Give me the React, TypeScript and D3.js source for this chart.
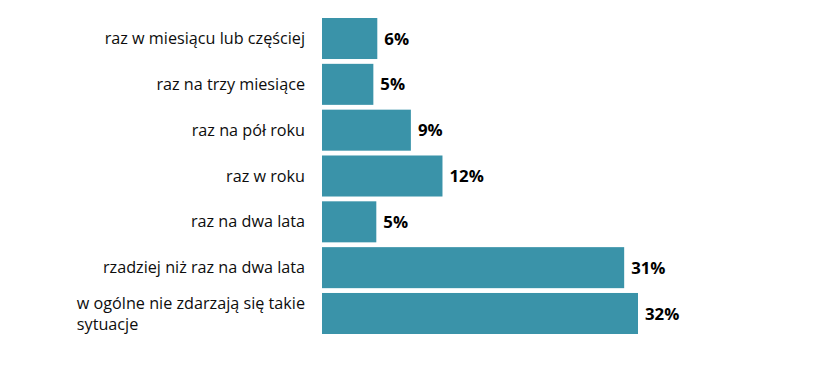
import React, { useEffect, useRef } from "react";
import * as d3 from "d3";

const categories = [
  "raz w miesiącu lub częściej",
  "raz na trzy miesiące",
  "raz na pół roku",
  "raz w roku",
  "raz na dwa lata",
  "rzadziej niż raz na dwa lata",
  "w ogólne nie zdarzają się takie sytuacje",
];
const values = [5.6, 5.2, 9.0, 12.2, 5.5, 30.6, 32.0];
const valueLabels = ["6%", "5%", "9%", "12%", "5%", "31%", "32%"];
const wrapLines: string[][] = [
  ["raz w miesiącu lub częściej"],
  ["raz na trzy miesiące"],
  ["raz na pół roku"],
  ["raz w roku"],
  ["raz na dwa lata"],
  ["rzadziej niż raz na dwa lata"],
  ["w ogólne nie zdarzają się takie", "sytuacje"],
];

const W = 816;
const H = 369;
const FONT = "'Open Sans', sans-serif";

export default function App() {
  const ref = useRef<SVGSVGElement | null>(null);

  useEffect(() => {
    const svg = d3.select(ref.current);
    svg.selectAll("*").remove();

    const x = d3.scaleLinear().domain([0, 32]).range([322, 638]);
    const y = d3
      .scaleBand<string>()
      .domain(categories)
      .range([15.6, 336.4])
      .paddingInner(0.105)
      .paddingOuter(0.0525);

    svg
      .append("g")
      .selectAll("rect")
      .data(categories)
      .join("rect")
      .attr("x", x(0))
      .attr("y", (d) => y(d)!)
      .attr("width", (_, i) => x(values[i]) - x(0))
      .attr("height", y.bandwidth())
      .attr("fill", "#3a93a9");

    svg
      .append("g")
      .selectAll("text")
      .data(categories)
      .join("text")
      .attr("x", (_, i) => x(values[i]) + 7)
      .attr("y", (d) => y(d)! + y.bandwidth() / 2)
      .attr("dy", "0.36em")
      .attr("font-family", FONT)
      .attr("font-weight", "bold")
      .attr("font-size", 16.8)
      .attr("fill", "#000")
      .text((_, i) => valueLabels[i]);

    const labelRight = 305;
    const lineH = 21;
    const lg = svg.append("g");
    categories.forEach((c, i) => {
      const lines = wrapLines[i];
      const cy = y(c)! + y.bandwidth() / 2;
      const t = lg
        .append("text")
        .attr("font-family", FONT)
        .attr("font-size", 16.2)
        .attr("fill", "#0d0d0d");
      const tspans = lines.map((ln, k) =>
        t
          .append("tspan")
          .attr("y", cy + (k - (lines.length - 1) / 2) * lineH)
          .attr("dy", "0.35em")
          .text(ln)
      );
      const widths = tspans.map((ts) => (ts.node() as SVGTSpanElement).getComputedTextLength());
      const maxW = Math.max(...widths);
      tspans.forEach((ts) => ts.attr("x", labelRight - maxW));
    });
  }, []);

  return <svg ref={ref} width={W} height={H} style={{ display: "block", position: "absolute", left: 0, top: 0 }} />;
}
